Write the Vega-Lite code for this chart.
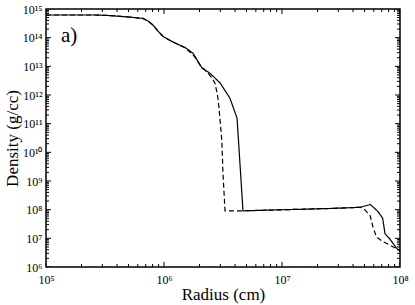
{
  "$schema": "https://vega.github.io/schema/vega-lite/v6.json",
  "autosize": {"type": "none"},
  "padding": {"left": 46, "top": 9, "right": 15, "bottom": 38},
  "width": 354,
  "height": 258,
  "config": {
    "view": {"stroke": "black", "strokeWidth": 1.5},
    "axis": {
      "labelFont": "Liberation Serif",
      "labelFontSize": 12,
      "labelColor": "black",
      "labelFlush": false,
      "labelOverlap": false,
      "titleFont": "Liberation Serif",
      "titleFontSize": 17,
      "titleFontWeight": "normal",
      "titleColor": "black",
      "ticks": false,
      "domain": false,
      "grid": false
    }
  },
  "datasets": {
    "xt": [
      {"v": 1e5, "k": "major"}, {"v": 2e5, "k": "minor"}, {"v": 3e5, "k": "minor"}, {"v": 4e5, "k": "minor"}, {"v": 5e5, "k": "minor"}, {"v": 6e5, "k": "minor"}, {"v": 7e5, "k": "minor"}, {"v": 8e5, "k": "minor"}, {"v": 9e5, "k": "minor"},
      {"v": 1e6, "k": "major"}, {"v": 2e6, "k": "minor"}, {"v": 3e6, "k": "minor"}, {"v": 4e6, "k": "minor"}, {"v": 5e6, "k": "minor"}, {"v": 6e6, "k": "minor"}, {"v": 7e6, "k": "minor"}, {"v": 8e6, "k": "minor"}, {"v": 9e6, "k": "minor"},
      {"v": 1e7, "k": "major"}, {"v": 2e7, "k": "minor"}, {"v": 3e7, "k": "minor"}, {"v": 4e7, "k": "minor"}, {"v": 5e7, "k": "minor"}, {"v": 6e7, "k": "minor"}, {"v": 7e7, "k": "minor"}, {"v": 8e7, "k": "minor"}, {"v": 9e7, "k": "minor"},
      {"v": 1e8, "k": "major"}
    ],
    "yt": [
      {"v": 1e6, "k": "major"}, {"v": 2e6, "k": "minor"}, {"v": 3e6, "k": "minor"}, {"v": 4e6, "k": "minor"}, {"v": 5e6, "k": "minor"}, {"v": 6e6, "k": "minor"}, {"v": 7e6, "k": "minor"}, {"v": 8e6, "k": "minor"}, {"v": 9e6, "k": "minor"},
      {"v": 1e7, "k": "major"}, {"v": 2e7, "k": "minor"}, {"v": 3e7, "k": "minor"}, {"v": 4e7, "k": "minor"}, {"v": 5e7, "k": "minor"}, {"v": 6e7, "k": "minor"}, {"v": 7e7, "k": "minor"}, {"v": 8e7, "k": "minor"}, {"v": 9e7, "k": "minor"},
      {"v": 1e8, "k": "major"}, {"v": 2e8, "k": "minor"}, {"v": 3e8, "k": "minor"}, {"v": 4e8, "k": "minor"}, {"v": 5e8, "k": "minor"}, {"v": 6e8, "k": "minor"}, {"v": 7e8, "k": "minor"}, {"v": 8e8, "k": "minor"}, {"v": 9e8, "k": "minor"},
      {"v": 1e9, "k": "major"}, {"v": 2e9, "k": "minor"}, {"v": 3e9, "k": "minor"}, {"v": 4e9, "k": "minor"}, {"v": 5e9, "k": "minor"}, {"v": 6e9, "k": "minor"}, {"v": 7e9, "k": "minor"}, {"v": 8e9, "k": "minor"}, {"v": 9e9, "k": "minor"},
      {"v": 1e10, "k": "major"}, {"v": 2e10, "k": "minor"}, {"v": 3e10, "k": "minor"}, {"v": 4e10, "k": "minor"}, {"v": 5e10, "k": "minor"}, {"v": 6e10, "k": "minor"}, {"v": 7e10, "k": "minor"}, {"v": 8e10, "k": "minor"}, {"v": 9e10, "k": "minor"},
      {"v": 1e11, "k": "major"}, {"v": 2e11, "k": "minor"}, {"v": 3e11, "k": "minor"}, {"v": 4e11, "k": "minor"}, {"v": 5e11, "k": "minor"}, {"v": 6e11, "k": "minor"}, {"v": 7e11, "k": "minor"}, {"v": 8e11, "k": "minor"}, {"v": 9e11, "k": "minor"},
      {"v": 1e12, "k": "major"}, {"v": 2e12, "k": "minor"}, {"v": 3e12, "k": "minor"}, {"v": 4e12, "k": "minor"}, {"v": 5e12, "k": "minor"}, {"v": 6e12, "k": "minor"}, {"v": 7e12, "k": "minor"}, {"v": 8e12, "k": "minor"}, {"v": 9e12, "k": "minor"},
      {"v": 1e13, "k": "major"}, {"v": 2e13, "k": "minor"}, {"v": 3e13, "k": "minor"}, {"v": 4e13, "k": "minor"}, {"v": 5e13, "k": "minor"}, {"v": 6e13, "k": "minor"}, {"v": 7e13, "k": "minor"}, {"v": 8e13, "k": "minor"}, {"v": 9e13, "k": "minor"},
      {"v": 1e14, "k": "major"}, {"v": 2e14, "k": "minor"}, {"v": 3e14, "k": "minor"}, {"v": 4e14, "k": "minor"}, {"v": 5e14, "k": "minor"}, {"v": 6e14, "k": "minor"}, {"v": 7e14, "k": "minor"}, {"v": 8e14, "k": "minor"}, {"v": 9e14, "k": "minor"},
      {"v": 1e15, "k": "major"}
    ],
    "curves": [
      {"s": "solid", "r": 1.00e5, "d": 6.17e14},
      {"s": "solid", "r": 2.65e5, "d": 6.17e14},
      {"s": "solid", "r": 3.48e5, "d": 5.90e14},
      {"s": "solid", "r": 5.05e5, "d": 5.25e14},
      {"s": "solid", "r": 6.64e5, "d": 4.68e14},
      {"s": "solid", "r": 7.31e5, "d": 3.80e14},
      {"s": "solid", "r": 8.07e5, "d": 2.75e14},
      {"s": "solid", "r": 8.89e5, "d": 1.70e14},
      {"s": "solid", "r": 9.82e5, "d": 1.10e14},
      {"s": "solid", "r": 1.19e6, "d": 7.08e13},
      {"s": "solid", "r": 1.53e6, "d": 4.37e13},
      {"s": "solid", "r": 1.76e6, "d": 2.88e13},
      {"s": "solid", "r": 2.10e6, "d": 8.71e12},
      {"s": "solid", "r": 2.45e6, "d": 5.75e12},
      {"s": "solid", "r": 2.99e6, "d": 2.63e12},
      {"s": "solid", "r": 3.62e6, "d": 7.76e11},
      {"s": "solid", "r": 4.16e6, "d": 1.55e11},
      {"s": "solid", "r": 4.67e6, "d": 9.12e7},
      {"s": "solid", "r": 2.55e7, "d": 1.10e8},
      {"s": "solid", "r": 4.58e7, "d": 1.21e8},
      {"s": "solid", "r": 5.62e7, "d": 1.51e8},
      {"s": "solid", "r": 6.55e7, "d": 8.32e7},
      {"s": "solid", "r": 7.13e7, "d": 5.01e7},
      {"s": "solid", "r": 7.46e7, "d": 1.46e7},
      {"s": "solid", "r": 8.22e7, "d": 9.33e6},
      {"s": "solid", "r": 9.38e7, "d": 4.47e6},
      {"s": "solid", "r": 1.00e8, "d": 3.55e6},
      {"s": "dashed", "r": 1.00e5, "d": 6.17e14},
      {"s": "dashed", "r": 2.65e5, "d": 6.17e14},
      {"s": "dashed", "r": 3.48e5, "d": 5.90e14},
      {"s": "dashed", "r": 5.05e5, "d": 5.25e14},
      {"s": "dashed", "r": 6.64e5, "d": 4.68e14},
      {"s": "dashed", "r": 7.31e5, "d": 3.80e14},
      {"s": "dashed", "r": 8.07e5, "d": 2.75e14},
      {"s": "dashed", "r": 8.89e5, "d": 1.70e14},
      {"s": "dashed", "r": 9.82e5, "d": 1.10e14},
      {"s": "dashed", "r": 1.19e6, "d": 7.08e13},
      {"s": "dashed", "r": 1.53e6, "d": 4.37e13},
      {"s": "dashed", "r": 1.83e6, "d": 2.09e13},
      {"s": "dashed", "r": 2.02e6, "d": 1.10e13},
      {"s": "dashed", "r": 2.36e6, "d": 5.75e12},
      {"s": "dashed", "r": 2.55e6, "d": 3.89e12},
      {"s": "dashed", "r": 2.70e6, "d": 2.63e12},
      {"s": "dashed", "r": 2.84e6, "d": 1.00e12},
      {"s": "dashed", "r": 2.92e6, "d": 3.80e11},
      {"s": "dashed", "r": 3.09e6, "d": 2.63e10},
      {"s": "dashed", "r": 3.16e6, "d": 1.86e9},
      {"s": "dashed", "r": 3.29e6, "d": 9.12e7},
      {"s": "dashed", "r": 4.67e6, "d": 9.12e7},
      {"s": "dashed", "r": 2.55e7, "d": 1.10e8},
      {"s": "dashed", "r": 4.58e7, "d": 1.21e8},
      {"s": "dashed", "r": 4.85e7, "d": 1.17e8},
      {"s": "dashed", "r": 5.57e7, "d": 6.31e7},
      {"s": "dashed", "r": 5.90e7, "d": 2.51e7},
      {"s": "dashed", "r": 6.32e7, "d": 1.10e7},
      {"s": "dashed", "r": 7.03e7, "d": 8.13e6},
      {"s": "dashed", "r": 8.22e7, "d": 5.75e6},
      {"s": "dashed", "r": 1.00e8, "d": 3.80e6}
    ]
  },
  "layer": [
    {
      "data": {"name": "curves"},
      "mark": {"type": "line", "color": "black", "strokeWidth": 1.2},
      "encoding": {
        "strokeDash": {"field": "s", "type": "nominal", "scale": {"domain": ["solid", "dashed"], "range": [[1, 0], [5, 3]]}, "legend": null},
        "x": {"field": "r", "type": "quantitative", "scale": {"type": "log", "domain": [1e5, 1e8], "nice": false},
          "axis": {"orient": "bottom", "title": "Radius (cm)", "labelPadding": 7, "titlePadding": 1,
            "values": [1e5, 1e6, 1e7, 1e8],
            "labelExpr": "datum.value < 5e5 ? '10⁵' : datum.value < 5e6 ? '10⁶' : datum.value < 5e7 ? '10⁷' : '10⁸'"}},
        "y": {"field": "d", "type": "quantitative", "scale": {"type": "log", "domain": [1e6, 1e15], "nice": false},
          "axis": {"orient": "left", "title": "Density (g/cc)", "labelPadding": 4, "titlePadding": 1,
            "values": [1e6, 1e7, 1e8, 1e9, 1e10, 1e11, 1e12, 1e13, 1e14, 1e15],
            "labelExpr": "['10⁶','10⁷','10⁸','10⁹','10¹⁰','10¹¹','10¹²','10¹³','10¹⁴','10¹⁵'][round(log(datum.value)/LN10)-6]"}}
      }
    },
    {
      "data": {"name": "xt"},
      "mark": {"type": "tick", "orient": "vertical", "color": "black", "thickness": 1, "clip": true, "opacity": 1},
      "encoding": {
        "x": {"field": "v", "type": "quantitative"},
        "y": {"datum": 1e6, "type": "quantitative"},
        "size": {"field": "k", "type": "nominal", "scale": {"domain": ["major", "minor"], "range": [10, 6]}, "legend": null}
      }
    },
    {
      "data": {"name": "xt"},
      "mark": {"type": "tick", "orient": "vertical", "color": "black", "thickness": 1, "clip": true, "opacity": 1},
      "encoding": {
        "x": {"field": "v", "type": "quantitative"},
        "y": {"datum": 1e15, "type": "quantitative"},
        "size": {"field": "k", "type": "nominal", "scale": {"domain": ["major", "minor"], "range": [10, 6]}, "legend": null}
      }
    },
    {
      "data": {"name": "yt"},
      "mark": {"type": "tick", "orient": "horizontal", "color": "black", "thickness": 1, "clip": true, "opacity": 1},
      "encoding": {
        "y": {"field": "v", "type": "quantitative"},
        "x": {"datum": 1e5, "type": "quantitative"},
        "size": {"field": "k", "type": "nominal", "scale": {"domain": ["major", "minor"], "range": [10, 6]}, "legend": null}
      }
    },
    {
      "data": {"name": "yt"},
      "mark": {"type": "tick", "orient": "horizontal", "color": "black", "thickness": 1, "clip": true, "opacity": 1},
      "encoding": {
        "y": {"field": "v", "type": "quantitative"},
        "x": {"datum": 1e8, "type": "quantitative"},
        "size": {"field": "k", "type": "nominal", "scale": {"domain": ["major", "minor"], "range": [10, 6]}, "legend": null}
      }
    },
    {
      "data": {"values": [{"t": "a)", "r": 1.57e5, "d": 1.15e14}]},
      "mark": {"type": "text", "font": "Liberation Serif", "fontSize": 21, "color": "black", "align": "center", "baseline": "middle"},
      "encoding": {
        "x": {"field": "r", "type": "quantitative"},
        "y": {"field": "d", "type": "quantitative"},
        "text": {"field": "t"}
      }
    }
  ]
}
